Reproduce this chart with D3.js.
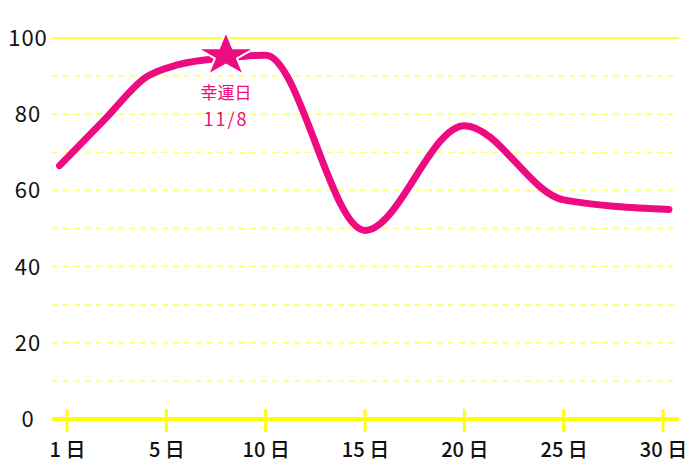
<!DOCTYPE html>
<html>
<head>
<meta charset="utf-8">
<script src="https://cdn.jsdelivr.net/npm/d3@7"></script>
<style>
  body { margin: 0; background: #fff; }
  svg text { font-family: "Noto Sans CJK JP", "Noto Sans", sans-serif; }
</style>
</head>
<body>
<script>
// tick days on the x axis (drawn evenly spaced)
var tickDays = [1, 5, 10, 15, 20, 25, 30];
var yTicks = [0, 20, 40, 60, 80, 100];
var gridValues = [10, 20, 30, 40, 50, 60, 70, 80, 90];
// line series
var days = [0.7, 2.5, 4.2, 5.6, 8, 10, 15, 20, 25, 30.3];
var values = [66.5, 78.5, 89.8, 93, 94.8, 95.5, 49.5, 77, 57.5, 55];
// highlighted point
var luckyDay = 8, luckyValue = 95.4, luckyLabel = ["幸運日", "11/8"];

var width = 700, height = 467;
var margin = { left: 52, right: 21 };
var pink = "#ee0a80", yellow = "#ffff00";

var svg = d3.select("body").append("svg")
    .attr("width", width)
    .attr("height", height);

//x scale: piecewise so ticks land evenly spaced
var tickX = tickDays.map(function (d, i) { return 67 + i * (663 - 67) / (tickDays.length - 1); });
var x = d3.scaleLinear().domain(tickDays).range(tickX);
var y = d3.scaleLinear().domain([0, 100]).range([419, 38]);

//dashed grid lines
svg.append("g")
    .selectAll("line")
    .data(gridValues)
    .enter().append("line")
    .attr("x1", margin.left)
    .attr("x2", width - margin.right)
    .attr("y1", function (d) { return y(d); })
    .attr("y2", function (d) { return y(d); })
    .attr("stroke", "#ffff70")
    .attr("stroke-width", 1.5)
    .attr("stroke-dasharray", "6,5");

//top line
svg.append("line")
    .attr("x1", margin.left).attr("x2", width - margin.right)
    .attr("y1", y(100)).attr("y2", y(100))
    .attr("stroke", yellow).attr("stroke-width", 1.5);

//y labels
svg.append("g")
    .selectAll("text")
    .data(yTicks)
    .enter().append("text")
    .attr("x", 28)
    .attr("y", function (d) { return y(d); })
    .attr("dy", "0.36em")
    .attr("text-anchor", "middle")
    .attr("font-size", 22)
    .attr("letter-spacing", 1)
    .attr("fill", "#111")
    .text(function (d) { return d; });

//x axis
var xAxis = d3.axisBottom(x)
    .tickValues(tickDays)
    .tickSize(0)
    .tickFormat(function (d) { return d + " 日"; });

var gx = svg.append("g")
    .attr("transform", "translate(0," + y(0) + ")")
    .call(xAxis);
gx.select(".domain").remove();
gx.selectAll("text")
    .attr("y", 38)
    .attr("dy", 0)
    .attr("font-size", 20)
    .attr("font-weight", 500)
    .attr("fill", "#111")
    .style("font-family", "'Noto Sans CJK JP', sans-serif");

svg.append("line")
    .attr("x1", margin.left).attr("x2", width - margin.right)
    .attr("y1", y(0)).attr("y2", y(0))
    .attr("stroke", yellow).attr("stroke-width", 4);

svg.append("g")
    .selectAll("line")
    .data(tickDays)
    .enter().append("line")
    .attr("x1", function (d) { return x(d); })
    .attr("x2", function (d) { return x(d); })
    .attr("y1", y(0) - 10)
    .attr("y2", y(0) + 13)
    .attr("stroke", yellow)
    .attr("stroke-width", 3);

//the line
var line = d3.line()
    .x(function (d) { return x(d[0]); })
    .y(function (d) { return y(d[1]); })
    .curve(d3.curveMonotoneX);

svg.append("path")
    .datum(d3.zip(days, values))
    .attr("d", line)
    .attr("fill", "none")
    .attr("stroke", pink)
    .attr("stroke-width", 7)
    .attr("stroke-linecap", "round")
    .attr("stroke-linejoin", "round");

//star marker (a bit wider than a regular star)
svg.append("path")
    .attr("d", d3.symbol(d3.symbolStar, 640)())
    .attr("transform", "translate(" + x(luckyDay) + "," + y(luckyValue) + ") scale(1.28,1)")
    .attr("fill", pink)
    .attr("stroke", "#fff")
    .attr("stroke-width", 2)
    .attr("vector-effect", "non-scaling-stroke");

//two-line label under the star
var label = svg.append("text")
    .attr("text-anchor", "middle")
    .attr("fill", pink);
label.append("tspan")
    .attr("x", x(luckyDay))
    .attr("y", 99)
    .attr("font-size", 17)
    .text(luckyLabel[0]);
label.append("tspan")
    .attr("x", x(luckyDay))
    .attr("y", 126)
    .attr("font-size", 18)
    .attr("letter-spacing", 2)
    .text(luckyLabel[1]);
</script>
</body>
</html>
